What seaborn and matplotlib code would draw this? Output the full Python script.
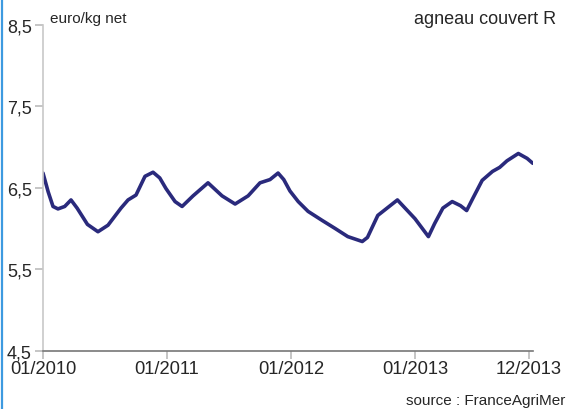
import numpy as np
import matplotlib
matplotlib.use("Agg")
import matplotlib.pyplot as plt
from matplotlib.lines import Line2D
import seaborn as sns

# months since 01/2010 and price (euro/kg net)
mois = [0.0, 0.5, 0.97, 1.45, 2.1, 2.71, 3.3, 4.3, 5.32, 6.29, 7.55, 8.23, 9.0,
        9.87, 10.65, 11.3, 11.9, 12.78, 13.46, 14.52, 15.97, 17.33, 18.59,
        19.85, 21.0, 21.97, 22.75, 23.3, 23.9, 24.7, 25.65, 27.0, 28.27, 29.5,
        30.9, 31.4, 32.4, 34.3, 36.0, 37.3, 37.9, 38.7, 39.6, 40.4, 41.0, 41.6,
        42.5, 43.5, 44.2, 44.9, 46.0, 46.85, 47.4]
prix = [6.68, 6.45, 6.27, 6.24, 6.27, 6.35, 6.25, 6.05, 5.96, 6.04, 6.25, 6.35,
        6.41, 6.64, 6.69, 6.62, 6.49, 6.33, 6.27, 6.40, 6.56, 6.40, 6.30, 6.40,
        6.56, 6.60, 6.68, 6.60, 6.46, 6.33, 6.21, 6.10, 6.00, 5.90, 5.84, 5.89,
        6.16, 6.35, 6.12, 5.90, 6.06, 6.25, 6.33, 6.28, 6.22, 6.37, 6.59, 6.70,
        6.75, 6.83, 6.92, 6.86, 6.80]

x_ticks = [0, 12, 24, 36, 47]
x_labels = ["01/2010", "01/2011", "01/2012", "01/2013", "12/2013"]
y_ticks = [4.5, 5.5, 6.5, 7.5, 8.5]
y_labels = ["4,5", "5,5", "6,5", "7,5", "8,5"]

sns.set_style("white")
plt.rcParams['font.family'] = ['Liberation Sans', 'DejaVu Sans']

fig = plt.figure(figsize=(5.68, 4.10), dpi=100)
ax = fig.add_axes([0.0757, 0.1422, 0.8623, 0.795])

sns.lineplot(x=mois, y=prix, sort=False, estimator=None, ax=ax,
             color='#2a2a7c', linewidth=2.6, solid_joinstyle='round',
             solid_capstyle='round')

ax.set_xlim(0, 47.4)
ax.set_ylim(4.5, 8.5)
ax.set_xticks(x_ticks)
ax.set_xticklabels(x_labels, fontsize=13.2)
ax.set_yticks(y_ticks)
ax.set_yticklabels(y_labels, fontsize=13)
ax.tick_params(axis='both', left=True, bottom=True, direction='out',
               length=6, width=1.2, color='#bbbbbb', pad=2)
ax.tick_params(axis='x', pad=1)

for side in ['top', 'right']:
    ax.spines[side].set_visible(False)
ax.spines['left'].set_color('#c8c8c8')
ax.spines['bottom'].set_color('#777777')
ax.spines['left'].set_linewidth(1.2)
ax.spines['bottom'].set_linewidth(1.2)

fig.text(50 / 568, 1 - 19 / 410, "euro/kg net", fontsize=11, va='center', ha='left')
fig.text(556 / 568, 1 - 20 / 410, "agneau couvert R", fontsize=13, va='center', ha='right')
fig.text(565 / 568, 1 - 401 / 410, "source : FranceAgriMer", fontsize=11, va='center', ha='right')

# blue border on the left edge
fig.add_artist(Line2D([2 / 568, 2 / 568], [0, 1], color='#3d9ae0', linewidth=1.6,
                      transform=fig.transFigure))

fig.savefig("out.png", dpi=100)
plt.close(fig)
